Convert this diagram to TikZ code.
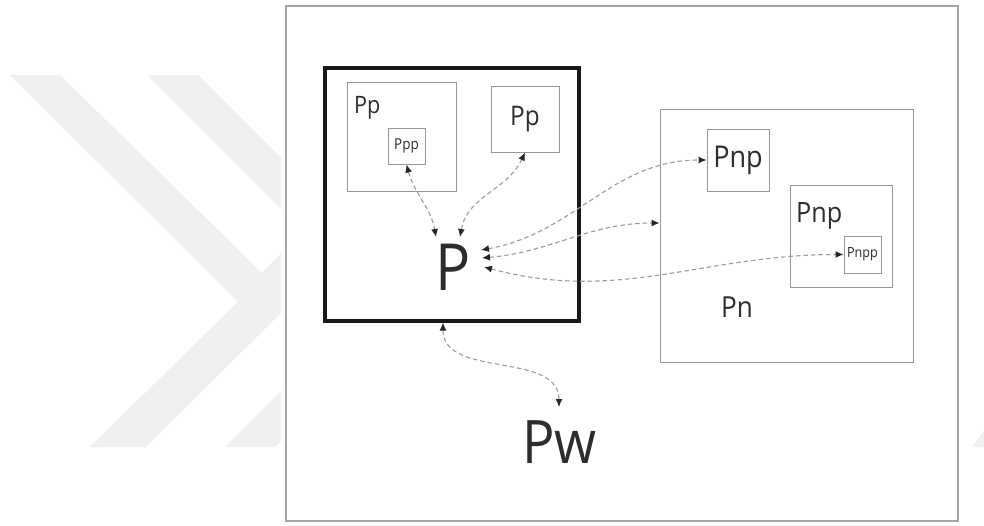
\documentclass[tikz,border=0pt]{standalone}
\usepackage{fontspec}
\setmainfont[FakeStretch=0.9]{Open Sans}
\usetikzlibrary{arrows.meta}
\definecolor{wm}{RGB}{240,240,240}
\definecolor{frameC}{RGB}{165,165,165}
\definecolor{boxC}{RGB}{150,150,150}
\definecolor{dashC}{RGB}{155,155,155}
\definecolor{txtC}{RGB}{45,45,45}
\begin{document}
\begin{tikzpicture}[x=1pt,y=-1pt,
  box/.style={draw=boxC, line width=1pt, inner sep=0pt, rectangle, text=txtC},
  lbl/.style={anchor=base west, inner sep=0pt, text=txtC},
  tipk/.style={Latex[length=8pt,width=7pt,color=black!85]},
  link/.style={draw=dashC, line width=1.1pt, dash pattern=on 4.5pt off 3pt,
    {Latex[length=8pt,width=7pt,color=black!85]}-{Latex[length=8pt,width=7pt,color=black!85]}}
]
\useasboundingbox (0,0) rectangle (984,525);
\fill[white] (0,0) rectangle (984,525);
% watermark
\fill[wm] (10,75) -- (60,75) -- (261.7,272.7) -- (281,253.4) -- (281,313) -- (146,447) -- (90,447) -- (238,301.7) -- cycle;
\fill[wm] (147,75) -- (198,75) -- (281,158) -- (281,209) -- cycle;
\fill[wm] (225,447) -- (281,391) -- (281,441) -- (275,447) -- cycle;
\fill[wm] (984,431) -- (984,447) -- (972,447) -- cycle;
% frame
\node[draw=frameC, line width=1.3pt, minimum width=672pt, minimum height=515pt, inner sep=0pt] (frame) at (622,263.5) {};
% P box
\node[draw=black!90, line width=3.2pt, minimum width=254pt, minimum height=253pt, inner sep=0pt] (pbox) at (452,194.5) {};
\node[box, minimum width=109pt, minimum height=109pt] (pp1) at (401.5,136.5) {};
\node[box, minimum width=37pt, minimum height=36pt, font=\fontsize{15}{15}\selectfont] (ppp) at (406.5,146) {Ppp};
\node[box, minimum width=68pt, minimum height=66pt, font=\fontsize{27}{27}\selectfont] (pp2) at (525,119) {Pp};
% Pn box
\node[box, minimum width=253pt, minimum height=253pt] (pn) at (786.5,235.5) {};
\node[box, minimum width=62pt, minimum height=62pt, font=\fontsize{30}{30}\selectfont] (pnp1) at (738,160) {Pnp};
\node[box, minimum width=102pt, minimum height=102pt] (pnp2) at (841,236) {};
\node[box, minimum width=37pt, minimum height=37pt, font=\fontsize{14}{14}\selectfont] (pnpp) at (862.5,254.5) {Pnpp};
% labels
\node[lbl, font=\fontsize{24}{24}\selectfont] (lpp1) at (354,113) {Pp};
\node[lbl, font=\fontsize{28}{28}\selectfont] (lpnp2) at (796,222.7) {Pnp};
\node[lbl, font=\fontsize{29}{29}\selectfont] (lpn) at (721,317) {Pn};
\node[lbl, font=\fontsize{65}{65}\selectfont] (ptext) at (435,290) {P};
\node[lbl, font=\fontsize{60}{60}\selectfont] (pw) at (522,463) {Pw};
% connectors
\draw[link] (ppp.south) to[out=-75,in=100] ([shift={(1,-53)}]ptext.base west);
\draw[link] (pp2.south) to[out=-115,in=80] ([shift={(25,-53)}]ptext.base west);
\draw[link] ([shift={(46,-40)}]ptext.base west) to[out=10,in=180] (pnp1.west);
\draw[link] ([shift={(47,-32)}]ptext.base west) to[out=5,in=180] ([yshift=12.5pt]pn.west);
\draw[link] ([shift={(49,-23)}]ptext.base west) to[out=-15,in=180] (pnpp.west);
\draw[link] ([xshift=-9pt]pbox.south) to[out=-90,in=90] ([shift={(37,-56)}]pw.base west);
\end{tikzpicture}
\end{document}
